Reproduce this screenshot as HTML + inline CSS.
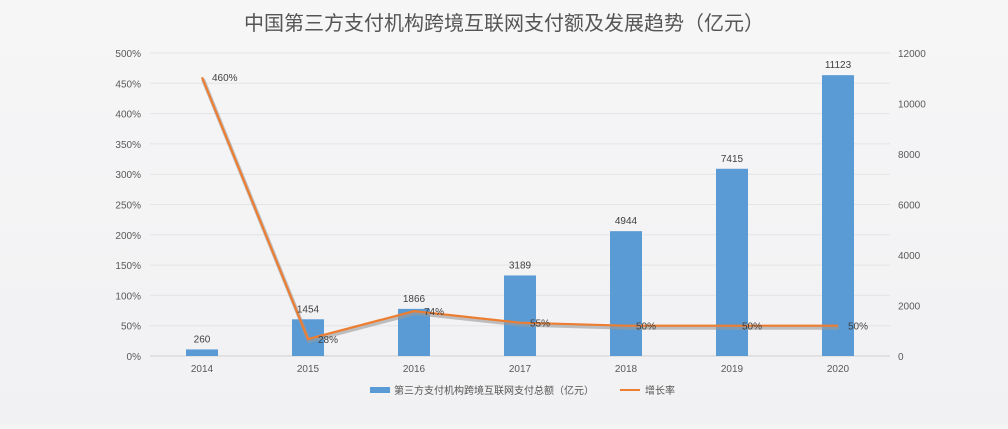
<!DOCTYPE html>
<html><head><meta charset="utf-8"><style>
body{margin:0;width:1008px;height:424px;background:#f4f4f5;overflow:hidden}
svg{font-family:"Liberation Sans","Noto Sans CJK SC",sans-serif}
</style></head><body>
<svg width="1008" height="424">
<defs><linearGradient id="bg" x1="0" x2="0" y1="0" y2="1"><stop offset="0" stop-color="#f6f6f7"/><stop offset="1" stop-color="#f1f1f3"/></linearGradient></defs>
<rect width="1008" height="424" fill="url(#bg)"/>
<text x="504" y="30" text-anchor="middle" font-size="20" fill="#555">中国第三方支付机构跨境互联网支付额及发展趋势（亿元）</text>
<g id="grid"></g><g id="bars"></g><g id="line"></g><g id="labels"></g>
<g>
<rect x="370" y="387" width="20" height="6" fill="#5b9bd5"/>
<text x="394" y="394" font-size="10" fill="#555">第三方支付机构跨境互联网支付总额（亿元）</text>
<line x1="620" y1="390" x2="640" y2="390" stroke="#ed7d31" stroke-width="2"/>
<text x="645" y="394" font-size="10" fill="#555">增长率</text>
</g>
</svg>
<script>
const categories=["2014","2015","2016","2017","2018","2019","2020"];
const amounts=[260,1454,1866,3189,4944,7415,11123];
const growth=[460,28,74,55,50,50,50];
const leftTicks=[0,50,100,150,200,250,300,350,400,450,500];
const rightTicks=[0,2000,4000,6000,8000,10000,12000];
const NS="http://www.w3.org/2000/svg";
const y0=356,y1=53,x0=202,step=106;
const xs=i=>x0+i*step;
const yl=v=>y0-(v/500)*(y0-y1);
const yr=v=>y0-(v/12000)*(y0-y1);
function mk(t,a,p){const e=document.createElementNS(NS,t);for(const k in a)e.setAttribute(k,a[k]);document.getElementById(p).appendChild(e);return e;}
leftTicks.forEach(v=>{const y=yl(v);
 const l=mk('line',{x1:150,x2:890,y1:y,y2:y,stroke:v===0?'#d0d0d0':'#e4e4e4','stroke-width':1},'grid');
 
 
 const t=mk('text',{x:141,y:y+4,'text-anchor':'end','font-size':10,fill:'#595959'},'grid');t.textContent=v+'%';
 
 });
rightTicks.forEach(v=>{const t=mk('text',{x:898,y:yr(v)+4,'font-size':10,fill:'#595959'},'grid');t.textContent=v;
 
 });
categories.forEach((c,i)=>{const t=mk('text',{x:xs(i),y:372,'text-anchor':'middle','font-size':10,fill:'#595959'},'grid');t.textContent=c;
 
 
 const h=y0-yr(amounts[i]);
 const b=mk('rect',{x:xs(i)-16,y:yr(amounts[i]),width:32,height:h,fill:'#5b9bd5'},'bars');
 
 
 const v=mk('text',{x:xs(i),y:yr(amounts[i])-7,'text-anchor':'middle','font-size':10,fill:'#404040'},'labels');v.textContent=amounts[i];
 
 
 const g=mk('text',{x:xs(i)+10,y:yl(growth[i])+4,'font-size':10,fill:'#404040'},'labels');g.textContent=growth[i]+'%';
 
 });
const pts=growth.map((g,i)=>xs(i)+','+yl(g)).join(' ');
const sh=mk('polyline',{points:pts,fill:'none',stroke:'#999','stroke-width':4,opacity:0.6,transform:'translate(1,2)'},'line');


const pl=mk('polyline',{points:pts,fill:'none',stroke:'#ed7d31','stroke-width':2.2},'line');


</script>
</body></html>
